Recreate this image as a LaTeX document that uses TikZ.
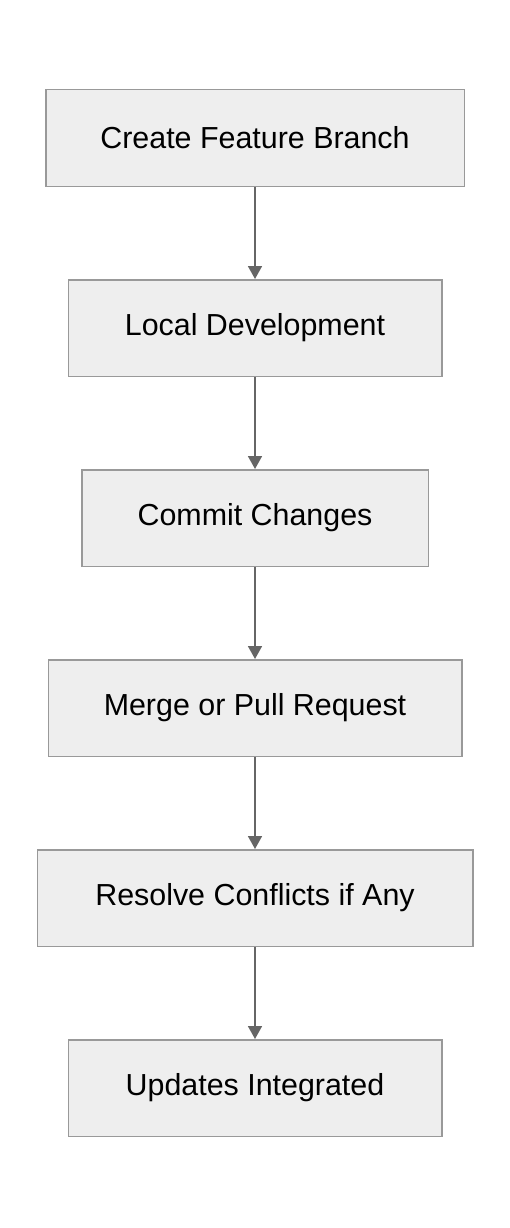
\documentclass[tikz,border=0pt]{standalone}
\usepackage{fontspec}
\setmainfont{Liberation Sans}
\usetikzlibrary{positioning,arrows.meta}
\definecolor{boxfill}{HTML}{EEEEEE}
\definecolor{boxline}{HTML}{999999}
\definecolor{arrowline}{HTML}{666666}
\begin{document}
\begin{tikzpicture}[
        x=1pt, y=1pt,
        node distance=92pt,
        stepbox/.style={draw=boxline, fill=boxfill, line width=1.5pt,
          minimum height=96.5pt, inner xsep=20pt,
          font=\fontsize{30.4}{36}\selectfont},
        flow/.style={draw=arrowline, line width=1.8pt,
          -{Triangle[width=14pt,length=13pt]}}
      ]
      \useasboundingbox (0,0) rectangle (510,-1228);
      \node[stepbox, minimum width=418.5pt] (branch) at (255,-138) {Create Feature Branch};
      \node[stepbox, minimum width=373.5pt, below=of branch] (local) {Local Development};
      \node[stepbox, minimum width=346.5pt, below=of local] (commit) {Commit Changes};
      \node[stepbox, minimum width=413.5pt, below=of commit] (merge) {Merge or Pull Request};
      \node[stepbox, minimum width=435.5pt, below=of merge] (resolve) {Resolve Conflicts if Any};
      \node[stepbox, minimum width=373.5pt, below=of resolve] (updates) {Updates Integrated};
      \draw[flow] (branch) -- (local);
      \draw[flow] (local) -- (commit);
      \draw[flow] (commit) -- (merge);
      \draw[flow] (merge) -- (resolve);
      \draw[flow] (resolve) -- (updates);
      \end{tikzpicture}
\end{document}
